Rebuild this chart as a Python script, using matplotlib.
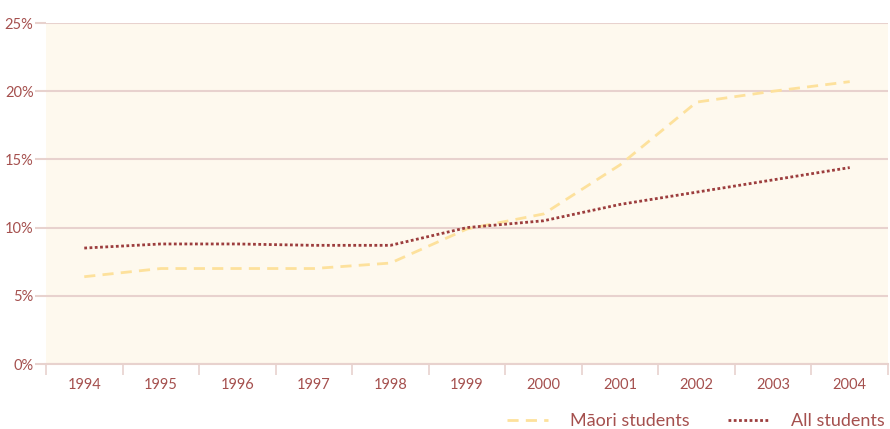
import matplotlib
matplotlib.use('Agg')
import matplotlib.pyplot as plt
import numpy as np

years = ['1994', '1995', '1996', '1997', '1998', '1999', '2000', '2001', '2002', '2003', '2004']
maori = [6.4, 7.0, 7.0, 7.0, 7.4, 9.9, 11.0, 14.6, 19.2, 20.0, 20.7]
all_students = [8.5, 8.8, 8.8, 8.7, 8.7, 10.0, 10.5, 11.7, 12.6, 13.5, 14.4]
yticks = [0, 5, 10, 15, 20, 25]

text_col = '#A5504E'
grid_col = '#E8D2CE'

plt.rcParams['font.family'] = ['Lato', 'DejaVu Sans']

fig = plt.figure(figsize=(8.9, 4.29), dpi=100)
ax = fig.add_axes([46 / 890, 65 / 429, 842 / 890, 341 / 429])
ax.set_facecolor('#FEF9EE')

x = np.arange(len(years)) + 0.5
ax.plot(x, maori, color='#FDE19C', lw=2.0, dashes=(4, 2.6), label='Māori students')
ax.plot(x, all_students, color='#9C3D3D', lw=2.0, linestyle=(0, (1, 0.9)), label='All students')

ax.set_xlim(0, len(years))
ax.set_ylim(0, 25)
ax.set_yticks(yticks)
ax.set_yticklabels([f'{v}%' for v in yticks])
ax.set_xticks(np.arange(len(years) + 1))
ax.set_xticklabels([])
ax.set_xticks(x, minor=True)
ax.set_xticklabels(years, minor=True)

ax.grid(axis='y', color=grid_col, lw=1.5)
ax.set_axisbelow(True)
for s in ['top', 'right', 'left']:
    ax.spines[s].set_visible(False)
ax.spines['bottom'].set_color(grid_col)
ax.spines['bottom'].set_linewidth(1.5)

ax.tick_params(axis='y', length=8, width=1.5, color=grid_col, labelcolor=text_col, labelsize=10.5, pad=1)
ax.tick_params(axis='x', which='major', length=8, width=1.2, color=grid_col)
ax.tick_params(axis='x', which='minor', length=0, labelcolor=text_col, labelsize=10.5, pad=10)

fig.legend(loc='lower right', bbox_to_anchor=(1.006, -0.025), ncol=2, frameon=False,
           fontsize=13, labelcolor=text_col, handlelength=2.3, handletextpad=1.2,
           columnspacing=2.1, borderaxespad=0.2)

plt.savefig('out.png', dpi=100)
